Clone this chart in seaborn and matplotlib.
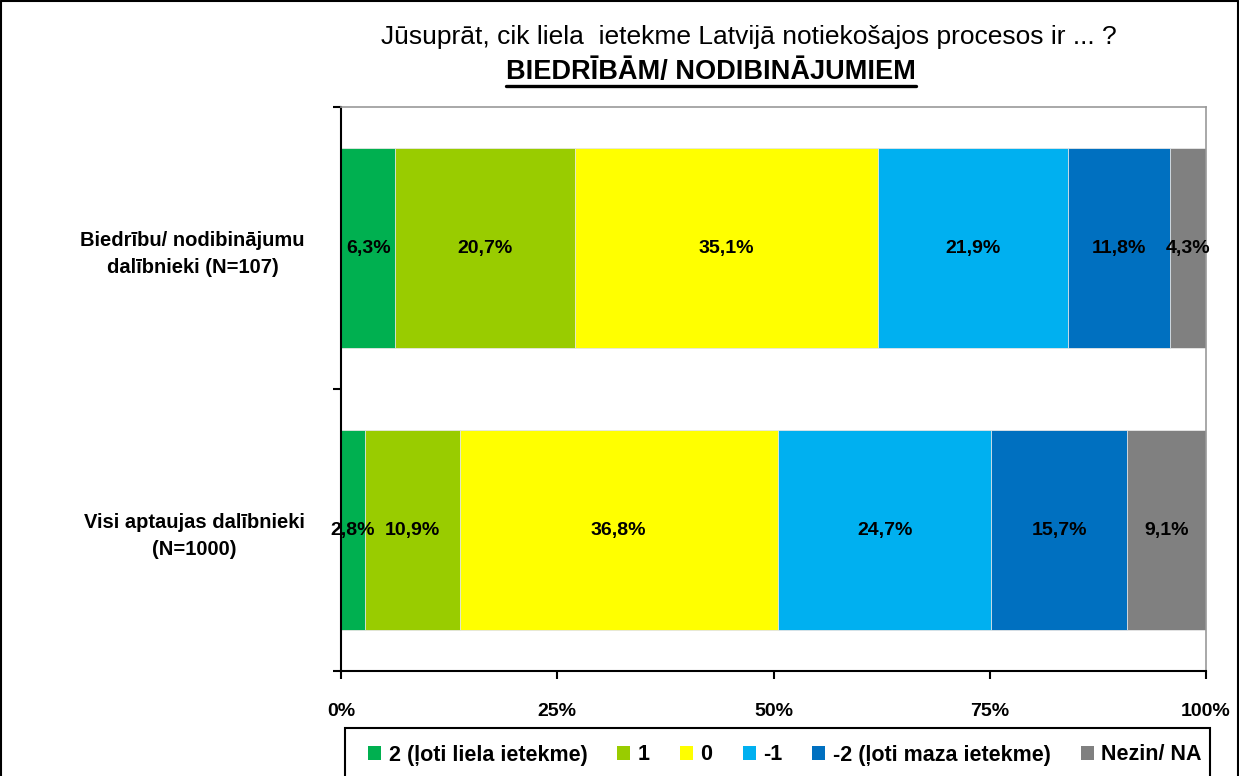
import numpy as np
import pandas as pd
import seaborn as sns
import matplotlib.pyplot as plt
from matplotlib.lines import Line2D
from matplotlib.patches import Patch, Rectangle

groups = ['Biedrību/ nodibinājumu\ndalībnieki (N=107)', 'Visi aptaujas dalībnieki\n(N=1000)']
answers = ['2 (ļoti liela ietekme)', '1', '0', '-1', '-2 (ļoti maza ietekme)', 'Nezin/ NA']
members = [6.3, 20.7, 35.1, 21.9, 11.8, 4.3]
everyone = [2.8, 10.9, 36.8, 24.7, 15.7, 9.1]
colors = ['#00B050', '#99CC00', '#FFFF00', '#00B0F0', '#0070C0', '#808080']
xticks = [0, 25, 50, 75, 100]

sns.set_style('white')
plt.rcParams['font.family'] = ['Liberation Sans', 'DejaVu Sans']
plt.rcParams['text.color'] = 'black'
plt.rcParams['xtick.color'] = 'black'
plt.rcParams['ytick.color'] = 'black'

values = np.array([members, everyone])
cum = values.cumsum(axis=1)

fig = plt.figure(figsize=(12.39, 7.76), dpi=100)
ax = fig.add_axes([341 / 1239, 1 - 671 / 776, 865 / 1239, 564 / 776])

# stacked bars: draw cumulative totals from the widest down
for i in reversed(range(len(answers))):
    df = pd.DataFrame({'group': groups, 'val': cum[:, i]})
    sns.barplot(data=df, x='val', y='group', orient='h', color=colors[i],
                width=0.71, ax=ax, edgecolor='#e8e8e8', linewidth=0.6, saturation=1)

for r in range(len(groups)):
    for i in range(len(answers)):
        center = cum[r, i] - values[r, i] / 2
        ax.text(center, r, f'{values[r, i]:.1f}%'.replace('.', ','), ha='center', va='center',
                fontsize=14, fontweight='bold', color='black')

ax.set_xlim(0, 100)
ax.set_ylim(1.5, -0.5)
ax.set_xlabel('')
ax.set_ylabel('')
ax.set_xticks(xticks)
ax.set_xticklabels([f'{t}%' for t in xticks], fontsize=14, fontweight='bold')
ax.tick_params(axis='x', direction='out', length=6, width=1.5, pad=17, bottom=True)
ax.set_yticks([0, 1])
ax.set_yticklabels(groups, fontsize=14.5, fontweight='bold', multialignment='center', linespacing=1.55)
ax.set_yticks([-0.5, 0.5, 1.5], minor=True)
ax.tick_params(axis='y', which='major', length=0, pad=26)
ax.tick_params(axis='y', which='minor', direction='out', length=6, width=1.5, left=True)

for side in ['left', 'bottom']:
    ax.spines[side].set_color('black')
    ax.spines[side].set_linewidth(1.5)
for side in ['top', 'right']:
    ax.spines[side].set_color('#999999')
    ax.spines[side].set_linewidth(1.2)

# title, second line bold and underlined
fig.text(749 / 1239, 1 - 44 / 776, 'Jūsuprāt, cik liela  ietekme Latvijā notiekošajos procesos ir ... ?',
         ha='center', va='baseline', fontsize=19)
t2 = fig.text(711 / 1239, 1 - 79 / 776, 'BIEDRĪBĀM/ NODIBINĀJUMIEM', ha='center', va='baseline',
              fontsize=19.5, fontweight='bold')
bb = t2.get_window_extent(renderer=fig.canvas.get_renderer()).transformed(fig.transFigure.inverted())
fig.add_artist(Line2D([bb.x0, bb.x1], [1 - 86 / 776, 1 - 86 / 776], color='black', lw=2.4,
                      transform=fig.transFigure))

# legend box runs past the bottom edge of the image
fig.add_artist(Rectangle((345 / 1239, -0.05), 865 / 1239, 0.05 + 1 - 728 / 776, transform=fig.transFigure,
                         facecolor='white', edgecolor='black', lw=1.5))
handles = [Patch(facecolor=c, edgecolor='none') for c in colors]
leg = fig.legend(handles, answers, loc='center', ncol=6, bbox_to_anchor=(785 / 1239, 1 - 755 / 776),
                 frameon=False, handlelength=0.6, handleheight=0.6, handletextpad=0.35,
                 columnspacing=1.4, prop={'weight': 'bold', 'size': 15.5}, borderpad=0)

# outer frame
for xs, ys in [([0.001, 0.001], [0, 0.999]), ([0.001, 0.999], [0.999, 0.999]), ([0.999, 0.999], [0, 0.999])]:
    fig.add_artist(Line2D(xs, ys, color='black', lw=1.5, transform=fig.transFigure))

fig.savefig('out.png', dpi=100)
